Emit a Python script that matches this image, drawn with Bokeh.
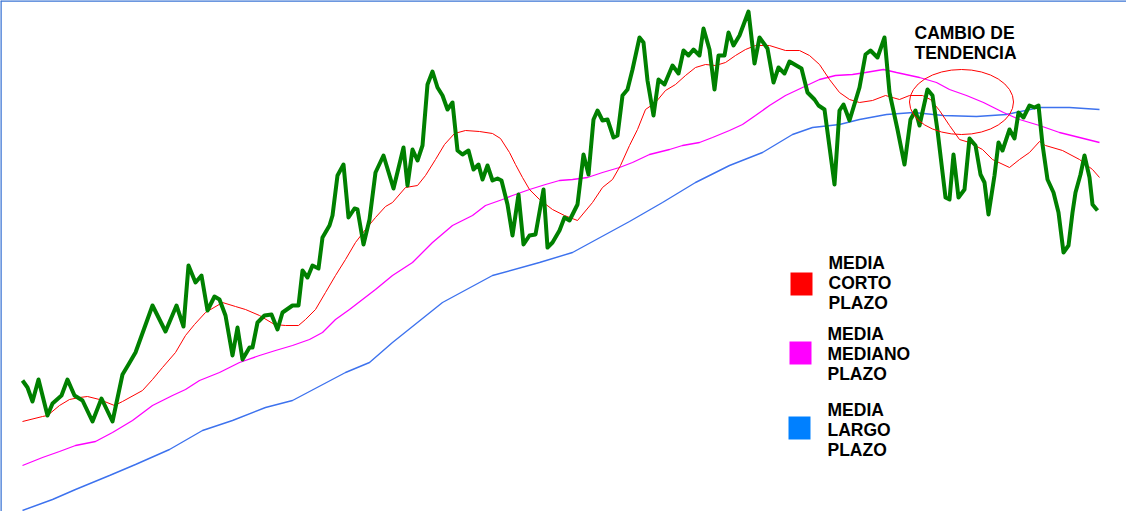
from bokeh.plotting import figure
from bokeh.models import Span, Range1d
from bokeh.core.properties import value
from bokeh.embed import file_html
from bokeh.resources import INLINE

# ---- price series (session, price) ----
dias_precio = [0, 5, 10, 16, 25, 30, 39, 45, 52, 60, 70, 79, 90, 100, 106, 113, 130, 143, 154, 161,
               166, 173, 179, 185, 192, 197, 203, 210, 215, 220, 227, 230, 235, 242, 249, 255, 260, 270, 276, 280,
               285, 290, 296, 300, 307, 310, 315, 321, 326, 332, 335, 341, 347, 353, 361, 371, 381, 385, 390, 395,
               400, 405, 410, 415, 420, 425, 430, 435, 440, 446, 451, 456, 460, 465, 470, 475, 479, 485, 490, 496,
               501, 507, 513, 521, 525, 530, 537, 542, 547, 555, 561, 566, 571, 575, 580, 585, 591, 595, 600, 605,
               610, 617, 621, 625, 631, 636, 642, 650, 656, 661, 666, 671, 677, 681, 687, 692, 696, 702, 706, 711,
               717, 726, 732, 737, 745, 751, 756, 762, 767, 779, 785, 792, 796, 802, 812, 817, 821, 827, 837, 843,
               848, 855, 862, 867, 875, 882, 888, 893, 897, 905, 910, 915, 923, 927, 931, 936, 942, 947, 953, 958,
               962, 966, 972, 976, 980, 987, 992, 996, 1001, 1007, 1012, 1016, 1020, 1025, 1031, 1036, 1041, 1046, 1050, 1053,
               1058, 1062, 1067, 1070, 1075]
precio = [132, 125, 111, 133, 97, 109, 117, 133, 117, 112, 91, 114, 91, 138, 148, 160, 207, 181, 207, 186,
          247, 230, 237, 202, 216, 213, 197, 157, 185, 153, 165, 165, 190, 197, 198, 183, 200, 207, 207, 242,
          235, 247, 244, 275, 287, 297, 337, 348, 295, 304, 303, 268, 293, 340, 357, 324, 365, 327, 363, 352,
          367, 428, 441, 425, 417, 403, 410, 362, 358, 362, 343, 348, 333, 347, 332, 334, 332, 308, 277, 318,
          268, 277, 278, 323, 265, 270, 282, 295, 292, 308, 358, 338, 393, 402, 392, 393, 375, 377, 417, 423,
          443, 475, 470, 432, 397, 433, 428, 447, 439, 462, 457, 463, 457, 484, 463, 423, 457, 457, 480, 467,
          477, 501, 449, 475, 464, 430, 445, 439, 451, 444, 420, 413, 407, 403, 328, 402, 408, 392, 425, 458,
          462, 455, 475, 420, 383, 348, 393, 402, 387, 423, 417, 382, 315, 313, 358, 315, 323, 374, 367, 338,
          330, 298, 337, 370, 362, 383, 374, 400, 395, 407, 405, 407, 368, 333, 320, 300, 260, 267, 300, 320,
          338, 357, 335, 308, 302]

# ---- short-term moving average ----
dias_corto = [0, 20, 25, 37, 47, 57, 65, 77, 92, 100, 120, 130, 140, 153, 163, 172, 183, 200, 213, 223,
              237, 252, 263, 276, 283, 293, 303, 313, 323, 333, 343, 353, 363, 370, 383, 395, 403, 413, 422, 432,
              443, 457, 470, 478, 487, 493, 500, 507, 517, 530, 542, 555, 570, 580, 590, 598, 607, 615, 623, 633,
              643, 653, 663, 673, 683, 693, 703, 713, 723, 733, 747, 763, 777, 787, 797, 807, 817, 827, 837, 850,
              863, 877, 887, 900, 908, 917, 927, 937, 947, 960, 970, 987, 997, 1007, 1017, 1023, 1040, 1057, 1070, 1077]
media_corto = [91, 96, 97, 107, 113, 115, 116, 113, 107, 111, 122, 133, 145, 160, 177, 188, 200, 210, 206, 203,
               197, 188, 187, 187, 193, 203, 220, 237, 253, 270, 283, 295, 306, 310, 325, 327, 337, 353, 368, 379,
               382, 381, 379, 374, 360, 348, 335, 323, 313, 303, 297, 292, 310, 325, 333, 347, 367, 383, 403, 410,
               422, 428, 437, 445, 448, 447, 450, 457, 463, 467, 467, 462, 462, 457, 448, 433, 420, 413, 410, 412,
               417, 413, 417, 417, 413, 402, 387, 373, 370, 363, 353, 345, 353, 360, 371, 367, 362, 353, 343, 335]

# ---- medium-term moving average ----
dias_mediano = [0, 20, 37, 53, 73, 90, 110, 130, 150, 163, 177, 197, 217, 237, 253, 270, 287, 300, 313, 327,
                340, 353, 370, 390, 410, 430, 450, 463, 480, 490, 507, 523, 537, 550, 565, 580, 597, 610, 627, 647,
                660, 677, 690, 707, 720, 733, 747, 763, 780, 797, 813, 830, 843, 861, 874, 897, 914, 927, 944, 961,
                981, 997, 1017, 1037, 1057, 1077]
media_mediano = [47, 55, 61, 67, 71, 80, 92, 107, 117, 123, 132, 140, 150, 157, 162, 167, 173, 180, 193, 203,
                 213, 223, 237, 250, 270, 287, 297, 307, 313, 317, 323, 328, 332, 333, 335, 340, 345, 350, 358, 363,
                 367, 370, 375, 382, 388, 397, 407, 417, 425, 433, 437, 438, 440, 443, 440, 435, 430, 423, 417, 410,
                 400, 393, 387, 380, 375, 370]

# ---- long-term moving average ----
dias_largo = [0, 30, 53, 87, 113, 147, 180, 210, 243, 270, 323, 347, 370, 420, 470, 517, 550, 607, 640, 673,
              707, 740, 770, 790, 817, 837, 864, 891, 921, 954, 984, 1017, 1047, 1077]
media_largo = [2, 13, 23, 37, 48, 63, 82, 92, 105, 112, 140, 150, 170, 210, 237, 250, 260, 291, 310, 330,
               347, 360, 378, 385, 388, 393, 398, 400, 397, 396, 398, 405, 405, 403]

# ---- texts ----
titulo = ["CAMBIO DE", "TENDENCIA"]
leyenda_corto = ["MEDIA", "CORTO", "PLAZO"]
leyenda_mediano = ["MEDIA", "MEDIANO", "PLAZO"]
leyenda_largo = ["MEDIA", "LARGO", "PLAZO"]

W, H = 1126, 511
p = figure(width=W, height=H, output_backend="svg", toolbar_location=None,
           x_axis_type=None, y_axis_type=None,
           x_range=Range1d(-22, 1104), y_range=Range1d(1, 512),
           min_border=0, background_fill_color="white", border_fill_color="white",
           outline_line_color=None)
p.grid.visible = False

FONT = value("Liberation Sans")

# moving averages
p.line(dias_largo, media_largo, line_color="#3d72ee", line_width=1.4)
p.line(dias_mediano, media_mediano, line_color="#ff00ff", line_width=1.3)
p.line(dias_corto, media_corto, line_color="#ff0000", line_width=1)
# price
p.line(dias_precio, precio, line_color="#008000", line_width=4, line_join="round")

# trend-change ellipse
p.ellipse(x=[939], y=[410.5], width=[104], height=[65], fill_color=None,
          line_color="#ff0000", line_width=1)

# title
p.text(x=[892] * 2, y=[480, 460], text=titulo, text_font=FONT, text_font_style="bold",
       text_font_size="17.5px", text_color="black", text_baseline="middle", text_align="left")

# legend
colores = ["#ff0000", "#ff00ff", "#0080ff"]
sq_y = [228.5, 159.5, 84.5]
sq_x = [779, 778, 777]
p.rect(x=sq_x, y=sq_y, width=22, height=23, fill_color=colores, line_color=None)
grupos = [leyenda_corto, leyenda_mediano, leyenda_largo]
ys0 = [250, 179, 103]
xs0 = [806, 805, 805]
for g, y0, x0 in zip(grupos, ys0, xs0):
    p.text(x=[x0] * 3, y=[y0, y0 - 20, y0 - 40], text=g, text_font=FONT, text_font_style="bold",
           text_font_size="17.5px", text_color="black", text_baseline="middle", text_align="left")

# top / left frame lines
p.add_layout(Span(location=-22, dimension="height", line_color="#3b74d4", line_width=2.5))
p.add_layout(Span(location=512, dimension="width", line_color="#3b74d4", line_width=2.5))

open("out.html", "w").write(file_html(p, INLINE))
